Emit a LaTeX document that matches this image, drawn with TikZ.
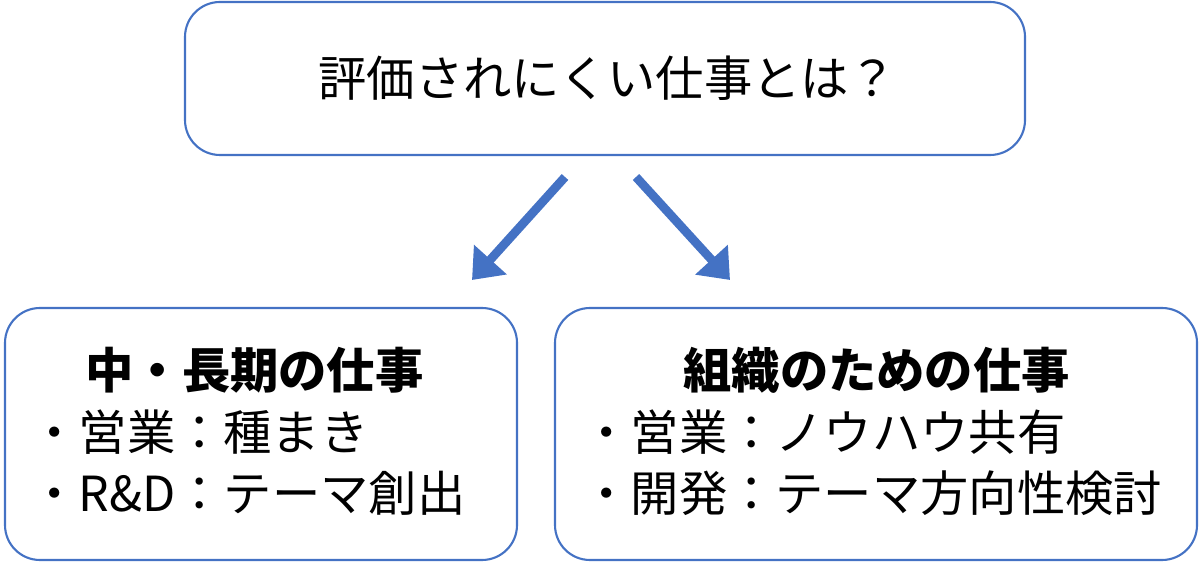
\documentclass[tikz,border=0pt]{standalone}
\usepackage{fontspec}
\setmainfont{Noto Sans CJK JP}
\usetikzlibrary{positioning, arrows.meta}
\definecolor{boxblue}{HTML}{4472C4}
\tikzstyle{qblock} = [rectangle, draw=boxblue, line width=1.2pt, rounded corners=0.7cm]
\tikzstyle{arrow} = [line width=5pt, draw=boxblue, -{Triangle[length=0.55cm, width=0.85cm]}]
\tikzstyle{txt} = [anchor=west, inner sep=0pt, font=\fontsize{27.5}{32}\selectfont]

\begin{document}
\begin{tikzpicture}
    \useasboundingbox (0,0) rectangle (24,11.26);
    \node (top) [qblock, minimum width=16.8cm, minimum height=3.06cm] at (12.1,9.69) {};
    \node (left) [qblock, minimum width=10.24cm, minimum height=5.04cm] at (5.22,2.58) {};
    \node (right) [qblock, minimum width=12.84cm, minimum height=5.04cm] at (17.52,2.58) {};

    \node (q) [txt] at (6.36,9.69) {評価されにくい仕事とは？};

    \node (ltitle) [txt] at (1.7,3.86) {\bfseries 中・長期の仕事};
    \node (l1) [txt] at (0.6,2.62) {・営業：種まき};
    \node (l2) [txt] at (0.6,1.40) {・R\&D：テーマ創出};

    \node (rtitle) [txt] at (13.66,3.86) {\bfseries 組織のための仕事};
    \node (r1) [txt] at (11.64,2.62) {・営業：ノウハウ共有};
    \node (r2) [txt] at (11.64,1.40) {・開発：テーマ方向性検討};

    \coordinate (a1s) at (11.3,7.72);
    \coordinate (a1e) at (9.44,5.66);
    \coordinate (a2s) at (12.72,7.72);
    \coordinate (a2e) at (14.6,5.66);
    \draw [arrow] (a1s) -- (a1e);
    \draw [arrow] (a2s) -- (a2e);
\end{tikzpicture}
\end{document}
